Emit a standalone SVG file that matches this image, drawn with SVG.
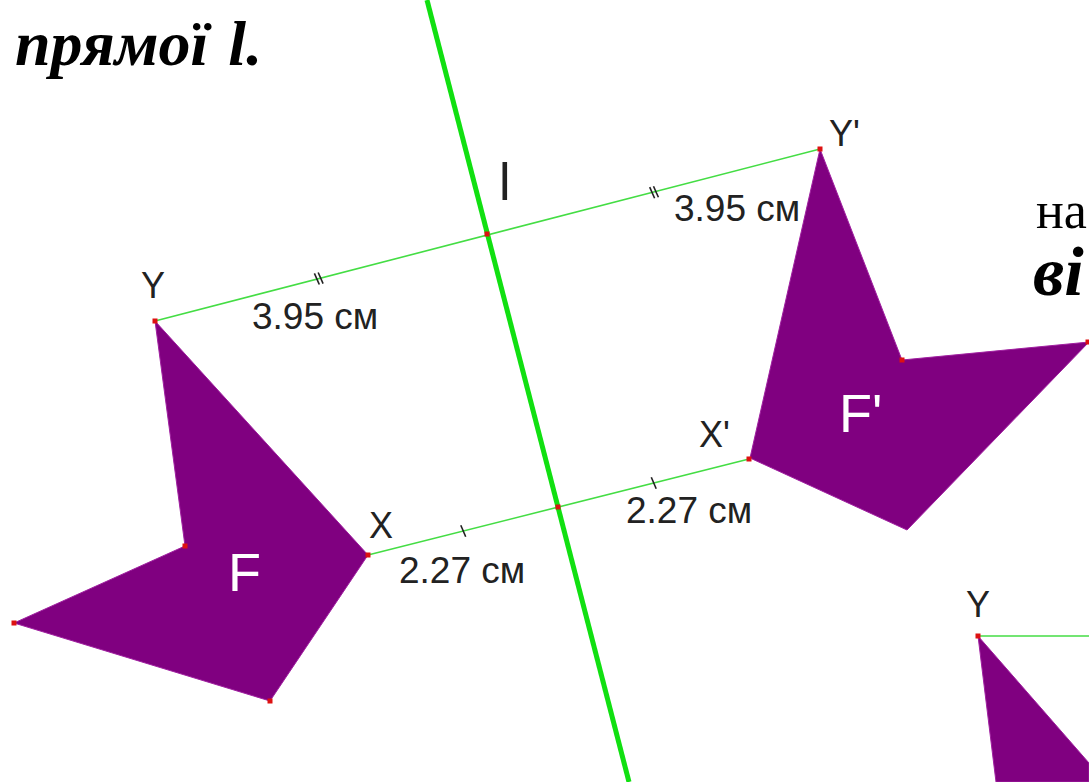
<svg xmlns="http://www.w3.org/2000/svg" width="1089" height="782" viewBox="0 0 1089 782">
  <style>
    .fig { fill: #800080; stroke: #a020a0; stroke-width: 1; }
    .pt { fill: #dd1111; }
    .seg { stroke: #44dd44; stroke-width: 1.6; fill: none; }
    .axis { stroke: #11e011; stroke-width: 5; fill: none; }
    .tick { stroke: #222; stroke-width: 1.6; }
    .lbl { font-family: "Liberation Sans", Arial, sans-serif; font-size: 36px; fill: #222; }
    .meas { font-family: "Liberation Sans", Arial, sans-serif; font-size: 37px; fill: #222; }
    .flbl { font-family: "Liberation Sans", Arial, sans-serif; font-size: 54px; fill: #ffffff; }
    .bi { font-family: "Liberation Serif", "Times New Roman", serif; font-weight: bold; font-style: italic; font-size: 64px; fill: #000; }
    .rg { font-family: "Liberation Serif", "Times New Roman", serif; font-size: 52px; fill: #000; }
  </style>
  <rect width="1089" height="782" fill="#ffffff"/>

  <g id="text-top-left">
    <text class="bi" x="15" y="65">прямої <tspan dx="4">l</tspan>.</text>
  </g>
  <g id="text-right">
    <text class="rg" x="1036" y="228">на</text>
    <text class="bi" x="1033" y="295" style="font-size:70px">ві</text>
  </g>

  <g id="figure-F">
    <polygon class="fig" points="155,321 368,555 270,701 14,623 185,546"/>
    <text class="flbl" x="228" y="591">F</text>
  </g>
  <g id="figure-F-prime">
    <polygon class="fig" points="820,149 902,360 1089,342 907,530 750,458"/>
    <text class="flbl" x="839" y="432">F'</text>
  </g>
  <g id="figure-bottom-right">
    <polygon class="fig" points="978,636 1089,763 1089,782 996,782"/>
  </g>

  <g id="connectors">
    <line class="seg" x1="155" y1="321" x2="820" y2="149"/>
    <line class="seg" x1="368" y1="555" x2="749" y2="459"/>
    <line class="seg" x1="978" y1="636" x2="1089" y2="636"/>
    <g id="ticks">
      <line class="tick" x1="318.2" y1="272.5" x2="323.1" y2="283.6"/>
      <line class="tick" x1="314.4" y1="273.4" x2="319.3" y2="284.5"/>
      <line class="tick" x1="653.5" y1="186.2" x2="658.4" y2="197.3"/>
      <line class="tick" x1="649.7" y1="187.1" x2="654.6" y2="198.2"/>
      <line class="tick" x1="460.8" y1="525.3" x2="465.7" y2="536.7"/>
      <line class="tick" x1="651.3" y1="477.3" x2="656.2" y2="488.7"/>
    </g>
  </g>

  <g id="line-l">
    <line class="axis" x1="427" y1="0" x2="629" y2="782"/>
    <text class="lbl" x="499" y="200" style="font-size:52px">l</text>
  </g>

  <g id="points">
    <rect class="pt" x="152.5" y="318.5" width="5" height="5"/>
    <rect class="pt" x="817.5" y="146.5" width="5" height="5"/>
    <rect class="pt" x="365.5" y="552.5" width="5" height="5"/>
    <rect class="pt" x="746.5" y="456.5" width="5" height="5"/>
    <rect class="pt" x="484.5" y="231.5" width="5" height="5"/>
    <rect class="pt" x="555.5" y="504.5" width="5" height="5"/>
    <rect class="pt" x="182.5" y="543.5" width="5" height="5"/>
    <rect class="pt" x="11.5" y="620.5" width="5" height="5"/>
    <rect class="pt" x="267.5" y="698.5" width="5" height="5"/>
    <rect class="pt" x="899.5" y="357.5" width="5" height="5"/>
    <rect class="pt" x="1085.5" y="339.5" width="5" height="5"/>
    <rect class="pt" x="975.5" y="633.5" width="5" height="5"/>
  </g>

  <g id="labels">
    <text class="lbl" x="141" y="298">Y</text>
    <text class="lbl" x="829" y="146">Y'</text>
    <text class="lbl" x="369" y="538">X</text>
    <text class="lbl" x="699" y="447">X'</text>
    <text class="lbl" x="966" y="617">Y</text>
    <text class="meas" x="252" y="329">3.95 см</text>
    <text class="meas" x="674" y="221">3.95 см</text>
    <text class="meas" x="399" y="583">2.27 см</text>
    <text class="meas" x="626" y="523">2.27 см</text>
  </g>
</svg>
